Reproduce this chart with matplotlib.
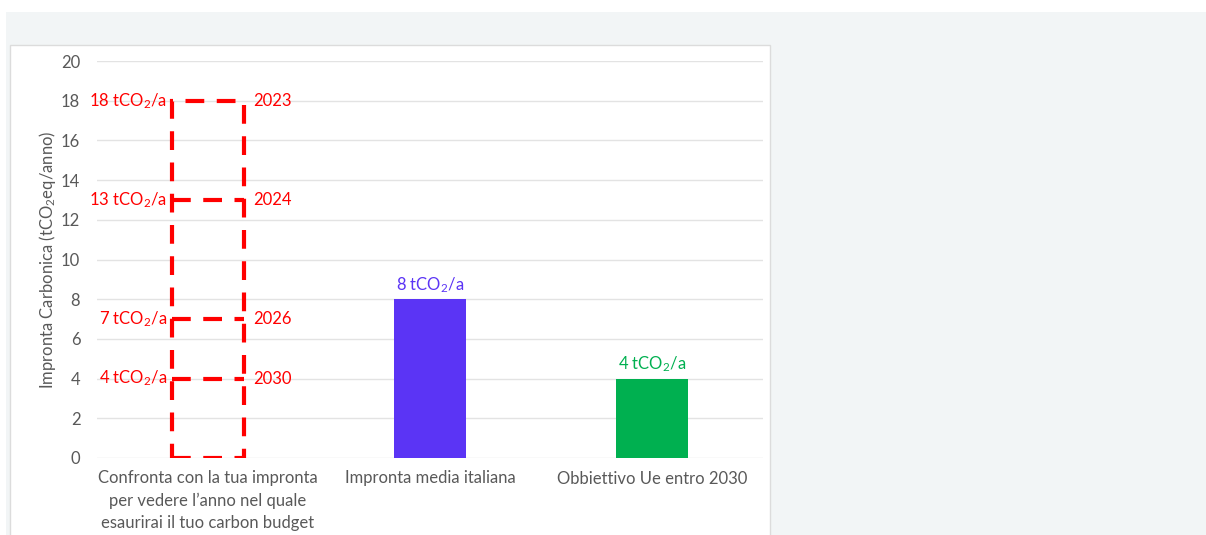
import matplotlib.pyplot as plt
from matplotlib.patches import Rectangle

plt.rcParams['font.family'] = ['Lato', 'DejaVu Sans']
plt.rcParams['mathtext.default'] = 'regular'

categories = ["Confronta con la tua impronta\nper vedere l\u2019anno nel quale\nesaurirai il tuo carbon budget",
              "Impronta media italiana",
              "Obbiettivo Ue entro 2030"]
values = [18, 8, 4]
bar_colors = ["none", "#5b34f5", "#00b050"]
value_labels = ["", "8 tCO$_2$/a", "4 tCO$_2$/a"]

budget_levels = [18, 13, 7, 4]
budget_labels = ["18 tCO$_2$/a", "13 tCO$_2$/a", "7 tCO$_2$/a", "4 tCO$_2$/a"]
budget_years = ["2023", "2024", "2026", "2030"]

RED = "#ff0000"
GRAY = "#595959"
W = 0.32
FS = 12

fig = plt.figure(figsize=(12.06, 5.35), dpi=100, facecolor="white")
# page background and white card
fig.patches.append(Rectangle((6 / 1206, 0), 1 - 6 / 1206, 1 - 12 / 535,
                             transform=fig.transFigure, facecolor="#f2f5f6",
                             edgecolor="none", zorder=-3))
fig.patches.append(Rectangle((10 / 1206, -0.05), 760 / 1206, 1 - 45 / 535 + 0.05,
                             transform=fig.transFigure, facecolor="white",
                             edgecolor="#dcdcdc", linewidth=1, zorder=-2))

ax = fig.add_axes([97 / 1206, 77 / 535, 666 / 1206, 397 / 535])
ax.set_facecolor("none")
x = list(range(len(categories)))

ax.bar(x[1:], values[1:], width=W, color=bar_colors[1:], zorder=2)
# dashed box for the personal budget
ax.bar(x[0], values[0], width=W, fill=False, edgecolor=RED, linewidth=3,
       linestyle=(0, (4.5, 3)), zorder=3)
ax.hlines(budget_levels[1:], x[0] - W / 2, x[0] + W / 2, colors=RED,
          linewidth=3, linestyles=[(0, (4.5, 3))], zorder=3)

for lvl, lab, yr in zip(budget_levels, budget_labels, budget_years):
    ax.annotate(lab, (x[0] - W / 2, lvl), xytext=(-4, 0), textcoords="offset points",
                ha="right", va="center", color=RED, fontsize=FS)
    ax.annotate(yr, (x[0] + W / 2, lvl), xytext=(7, 0), textcoords="offset points",
                ha="left", va="center", color=RED, fontsize=FS)

for xi, v, lab, c in zip(x[1:], values[1:], value_labels[1:], bar_colors[1:]):
    ax.annotate(lab, (xi, v), xytext=(0, 3), textcoords="offset points",
                ha="center", va="bottom", color=c, fontsize=FS)

ax.set_xlim(-0.5, 2.5)
ax.set_ylim(0, 20)
ax.set_yticks(range(0, 21, 2))
ax.set_xticks(x)
ax.set_xticklabels(categories, fontsize=FS, color=GRAY, linespacing=1.45)
ax.tick_params(axis="both", length=0, colors=GRAY, labelsize=FS)
ax.tick_params(axis="y", pad=12)
ax.tick_params(axis="x", pad=9)
ax.grid(axis="y", color="#e3e3e3", linewidth=1, zorder=0)
ax.set_axisbelow(True)
for s in ax.spines.values():
    s.set_visible(False)
ax.set_ylabel("Impronta Carbonica (tCO$_2$eq/anno)", color=GRAY, fontsize=FS, labelpad=2)

fig.savefig("out.png", dpi=100, facecolor="white")
